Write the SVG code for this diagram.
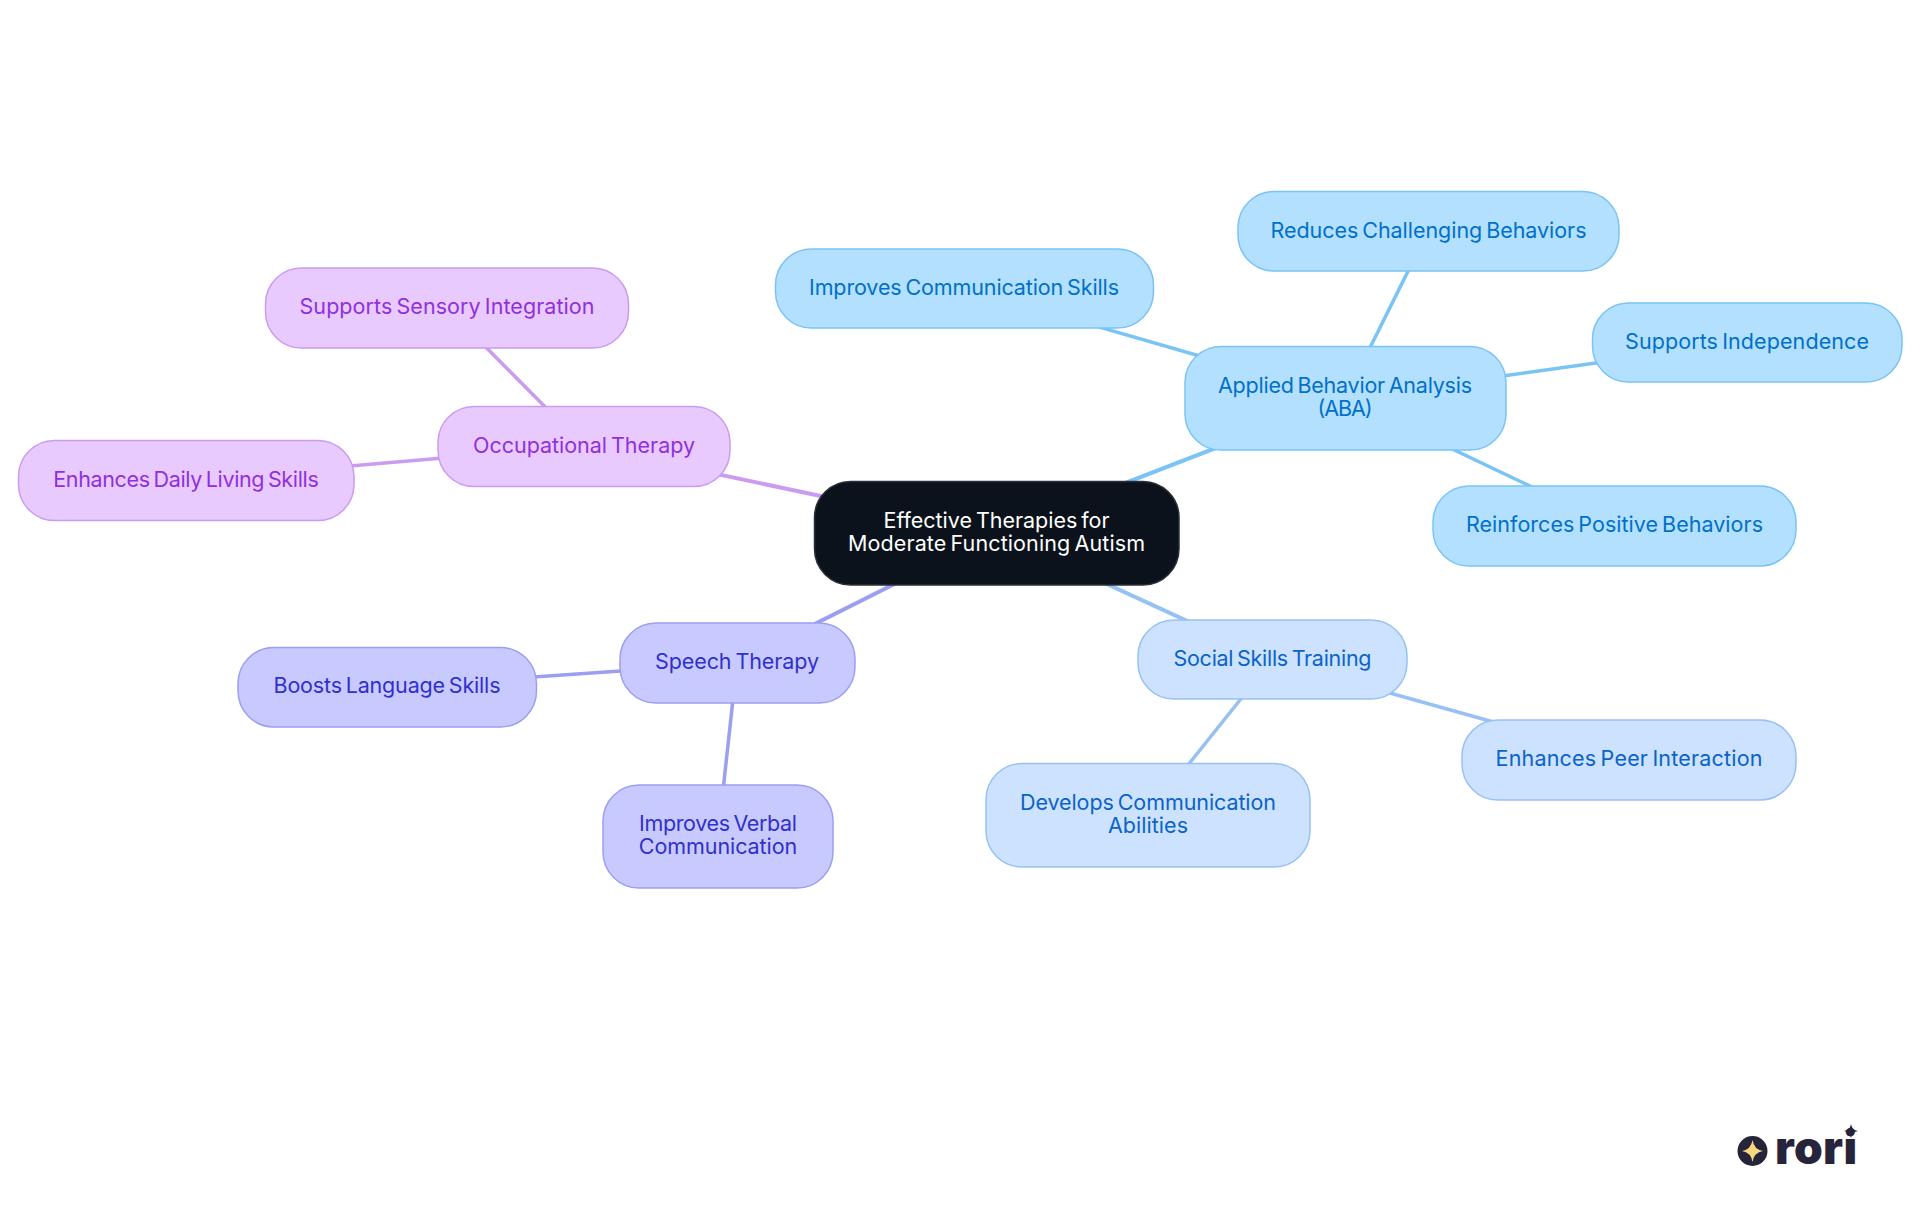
<svg xmlns="http://www.w3.org/2000/svg" width="1920" height="1215" viewBox="0 0 1920 1215">
<style>
text{font-family:"Inter","Noto Sans","Liberation Sans",sans-serif;font-size:21.5px;word-spacing:-2px;text-anchor:middle}
rect{stroke-width:1.5}
line{fill:none}
.n0 rect{fill:#0b121b;stroke:#2a3038}.n0 text{fill:#fff}
.a rect{fill:#b3e0ff;stroke:#7ac3f5}.a text{fill:#0070c9}
.s rect{fill:#cce2ff;stroke:#96c1f2}.s text{fill:#0b63c9}
.p rect{fill:#c8caff;stroke:#9c9ef0}.p text{fill:#3030cc}
.o rect{fill:#e8caff;stroke:#c99cf0}.o text{fill:#9030dd}
.ea{stroke:#7ac3f5}.es{stroke:#96c1f2}.ep{stroke:#9c9ef0}.eo{stroke:#c99cf0}
.t1{stroke-width:4}.t2{stroke-width:3.5}
</style>
<rect width="1920" height="1215" fill="#fff" style="stroke:none"/>
<g id="connectors">
<line class="ea t1" x1="996" y1="533" x2="1345" y2="398"/>
<line class="es t1" x1="996" y1="533" x2="1272" y2="660"/>
<line class="ep t1" x1="996" y1="533" x2="737" y2="663"/>
<line class="eo t1" x1="996" y1="533" x2="584" y2="446"/>
<line class="ea t2" x1="1345" y1="398" x2="964" y2="288"/>
<line class="ea t2" x1="1345" y1="398" x2="1428" y2="231"/>
<line class="ea t2" x1="1345" y1="398" x2="1747" y2="342"/>
<line class="ea t2" x1="1345" y1="398" x2="1614" y2="526"/>
<line class="es t2" x1="1272" y1="660" x2="1629" y2="760"/>
<line class="es t2" x1="1272" y1="660" x2="1148" y2="815"/>
<line class="ep t2" x1="737" y1="663" x2="387" y2="687"/>
<line class="ep t2" x1="737" y1="663" x2="718" y2="836"/>
<line class="eo t2" x1="584" y1="446" x2="447" y2="308"/>
<line class="eo t2" x1="584" y1="446" x2="186" y2="480"/>
</g>
<g id="root" class="n0"><rect x="814.500" y="481.500" width="364.500" height="103.500" rx="36"/><text x="996.5" y="528" textLength="226">Effective Therapies for</text><text x="996.5" y="551" textLength="297">Moderate Functioning Autism</text></g>
<g id="aba" class="a"><rect x="1185" y="346.500" width="321" height="103.500" rx="36"/><text x="1345" y="393" textLength="254">Applied Behavior Analysis</text><text x="1345" y="416" textLength="55">(ABA)</text></g>
<g id="aba-comm" class="a"><rect x="775.500" y="249" width="378" height="79" rx="36"/><text x="964" y="295" textLength="310">Improves Communication Skills</text></g>
<g id="aba-reduce" class="a"><rect x="1238" y="191.500" width="381" height="79.500" rx="36"/><text x="1428.5" y="238" textLength="316">Reduces Challenging Behaviors</text></g>
<g id="aba-indep" class="a"><rect x="1592.500" y="303" width="309.500" height="79" rx="36"/><text x="1747" y="349" textLength="244">Supports Independence</text></g>
<g id="aba-reinforce" class="a"><rect x="1433" y="486" width="363" height="80" rx="36"/><text x="1614.5" y="532" textLength="297">Reinforces Positive Behaviors</text></g>
<g id="social" class="s"><rect x="1138" y="620" width="269" height="79" rx="36"/><text x="1272.5" y="666" textLength="198">Social Skills Training</text></g>
<g id="social-peer" class="s"><rect x="1462" y="720" width="334" height="80" rx="36"/><text x="1629" y="766" textLength="267">Enhances Peer Interaction</text></g>
<g id="social-comm" class="s"><rect x="986" y="763.500" width="324" height="103.500" rx="36"/><text x="1148" y="810" textLength="256">Develops Communication</text><text x="1148" y="833" textLength="80">Abilities</text></g>
<g id="speech" class="p"><rect x="620" y="623" width="235" height="80" rx="36"/><text x="737" y="669" textLength="164">Speech Therapy</text></g>
<g id="speech-lang" class="p"><rect x="238" y="647.500" width="298.500" height="79.500" rx="36"/><text x="387" y="693" textLength="227">Boosts Language Skills</text></g>
<g id="speech-verbal" class="p"><rect x="603" y="785" width="230" height="103" rx="36"/><text x="718" y="831" textLength="158">Improves Verbal</text><text x="718" y="854" textLength="158.500">Communication</text></g>
<g id="ot" class="o"><rect x="438" y="406.500" width="292" height="80" rx="36"/><text x="584" y="453" textLength="222">Occupational Therapy</text></g>
<g id="ot-sensory" class="o"><rect x="265.500" y="268" width="363" height="80" rx="36"/><text x="447" y="314" textLength="295">Supports Sensory Integration</text></g>
<g id="ot-daily" class="o"><rect x="18.500" y="440.500" width="335.500" height="80" rx="36"/><text x="186" y="487" textLength="265.600">Enhances Daily Living Skills</text></g>
<g id="logo">
<circle cx="1752.500" cy="1151" r="15" fill="#26243a"/>
<path d="M1752.500 1140Q1754 1149.500 1763 1151Q1754 1152.500 1752.500 1162Q1751 1152.500 1742 1151Q1751 1149.500 1752.500 1140Z" fill="#f9d77e"/>
<text x="1816" y="1164" textLength="82" style="font-family:'Inter',sans-serif;font-size:46px;font-weight:900;word-spacing:0;fill:#26243a">rori</text>
<path d="M1851 1124Q1852 1130 1858 1131Q1852 1132 1851 1138Q1850 1132 1844 1131Q1850 1130 1851 1124Z" fill="#26243a"/>
</g>
</svg>
